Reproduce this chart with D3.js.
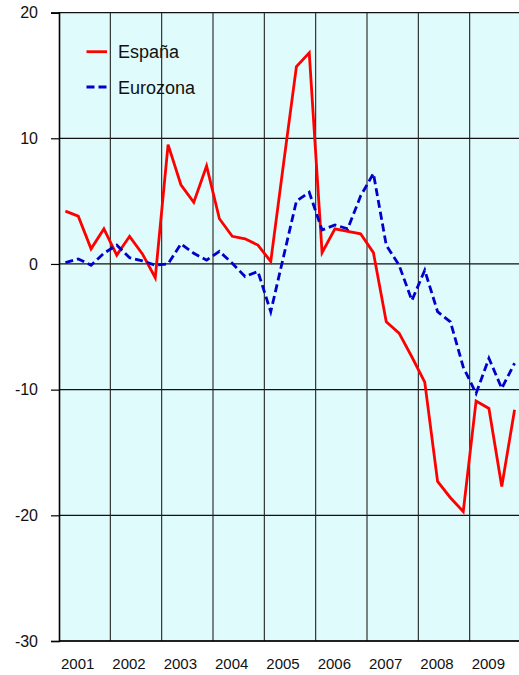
<!DOCTYPE html>
<html>
<head>
<meta charset="utf-8">
<script src="https://cdn.jsdelivr.net/npm/d3@7"></script>
<style>
  html, body { margin: 0; padding: 0; background: #ffffff; }
  svg { display: block; font-family: Arial, "Liberation Sans", sans-serif; }
</style>
</head>
<body>
<svg id="chart" width="519" height="675"></svg>
<script>
const years = ["2001","2002","2003","2004","2005","2006","2007","2008","2009"];
const quarters = years.flatMap(y => ["T1","T2","T3","T4"].map(q => y + q));
const espana = [
  4.2, 3.8, 1.2, 2.8,
  0.7, 2.2, 0.8, -1.1,
  9.5, 6.3, 4.9, 7.8,
  3.6, 2.2, 2.0, 1.5,
  0.2, 8.0, 15.7, 16.8,
  0.9, 2.8, 2.6, 2.4,
  0.9, -4.6, -5.5, -7.4,
  -9.4, -17.3, -18.6, -19.7,
  -10.9, -11.5, -17.7, -11.6
];
const eurozona = [
  0.1, 0.4, -0.1, 0.85,
  1.5, 0.5, 0.25, -0.1,
  0.0, 1.6, 0.85, 0.3,
  1.0, 0.05, -1.0, -0.6,
  -3.8, 0.6, 5.0, 5.7,
  2.7, 3.1, 2.8, 5.4,
  7.2, 1.5, -0.1, -2.9,
  -0.5, -3.8, -4.6, -8.2,
  -10.3, -7.5, -9.9, -7.9
];
const yTicks = [-30, -20, -10, 0, 10, 20];
const seriesNames = ["España", "Eurozona"];

const svg = d3.select("#chart");
const mLeft = 59, mRight = 521, mTop = 12.6, mBottom = 641;

const x = d3.scaleBand().domain(quarters).range([mLeft, mRight]).padding(0);
const y = d3.scaleLinear().domain([-30, 20]).range([mBottom, mTop]);
const cx = q => x(q) + x.bandwidth() / 2;

// background
svg.append("rect")
  .attr("x", mLeft).attr("y", y(20))
  .attr("width", mRight - mLeft).attr("height", y(-30) - y(20))
  .attr("fill", "#e0fbfb");

// horizontal grid
svg.append("g").selectAll("line").data(yTicks).join("line")
  .attr("x1", mLeft).attr("x2", mRight)
  .attr("y1", d => y(d)).attr("y2", d => y(d))
  .attr("stroke", "#111").attr("stroke-width", 1.2);

// vertical year lines
svg.append("g").selectAll("line").data(years.slice(1)).join("line")
  .attr("x1", d => x(d + "T1")).attr("x2", d => x(d + "T1"))
  .attr("y1", y(20)).attr("y2", y(-30))
  .attr("stroke", "#222").attr("stroke-width", 1.1);

// y axis
const yAxis = d3.axisLeft(y).tickValues(yTicks).tickSize(8).tickPadding(13).tickFormat(d => String(d));
const ga = svg.append("g").attr("transform", `translate(${mLeft},0)`).call(yAxis);
ga.select(".domain").attr("stroke", "#000").attr("stroke-width", 1.6);
ga.selectAll(".tick line").attr("stroke", "#000").attr("stroke-width", 1.2);
ga.selectAll(".tick text").attr("font-size", 16).attr("fill", "#111")
  .attr("font-family", "Arial, 'Liberation Sans', sans-serif");

// x axis bottom line
svg.append("line").attr("x1", mLeft).attr("x2", mRight)
  .attr("y1", y(-30)).attr("y2", y(-30)).attr("stroke", "#000").attr("stroke-width", 1.4);

// year labels
svg.append("g").selectAll("text").data(years).join("text")
  .attr("x", d => x(d + "T1") + 2)
  .attr("y", 669)
  .attr("font-size", 15).attr("fill", "#111")
  .text(d => d);

// lines
const line = d3.line().x((d, i) => cx(quarters[i])).y(d => y(d));
svg.append("path").datum(espana)
  .attr("d", line).attr("fill", "none")
  .attr("stroke", "#ff0000").attr("stroke-width", 2.8).attr("stroke-linejoin", "miter");
svg.append("path").datum(eurozona)
  .attr("d", line).attr("fill", "none")
  .attr("stroke", "#0000cc").attr("stroke-width", 2.8)
  .attr("stroke-dasharray", "8,4");

// legend
const legend = svg.append("g");
const lg = [
  {name: seriesNames[0], color: "#ff0000", dash: null, y: 51.7},
  {name: seriesNames[1], color: "#0000cc", dash: "8,4", y: 87}
];
lg.forEach(l => {
  legend.append("line").attr("x1", 86.5).attr("x2", 107).attr("y1", l.y).attr("y2", l.y)
    .attr("stroke", l.color).attr("stroke-width", 2.8)
    .attr("stroke-dasharray", l.dash);
  legend.append("text").attr("x", 118).attr("y", l.y + 6.5)
    .attr("font-size", 18).attr("fill", "#111").text(l.name);
});
</script>
</body>
</html>
